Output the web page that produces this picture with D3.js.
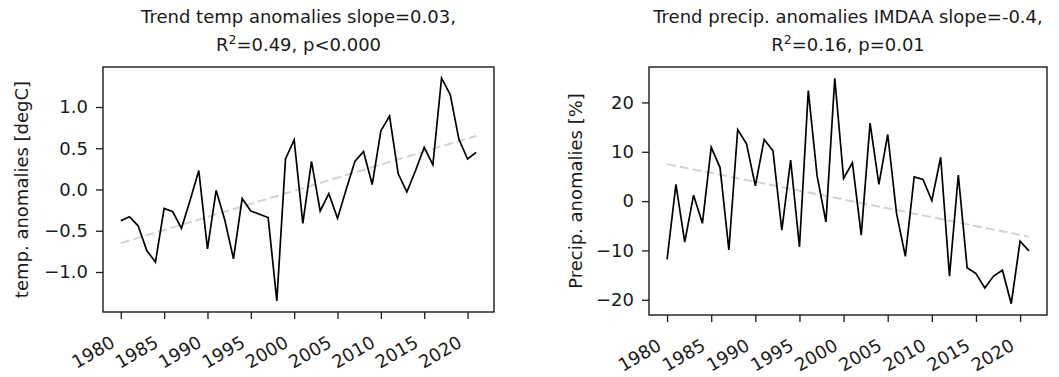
<!DOCTYPE html>
<html>
<head>
<meta charset="utf-8">
<script src="https://cdn.jsdelivr.net/npm/d3@7"></script>
<style>
  body { margin: 0; background: #fff; }
  svg { display: block; }
  text { font-family: "DejaVu Sans", sans-serif; fill: #1a1a1a; }
</style>
</head>
<body>
<svg id="chart"></svg>
<script>
// Canvas size
const width = 1059;
const height = 377;
const fontSize = 18;

// Data: annual anomalies 1980-2021
const years = d3.range(1980, 2022);
const tempAnom = [-0.38, -0.33, -0.44, -0.74, -0.88, -0.23, -0.27, -0.47, -0.13, 0.23,
  -0.72, -0.01, -0.37, -0.84, -0.11, -0.26, -0.30, -0.34, -1.35, 0.37,
  0.60, -0.41, 0.34, -0.26, -0.05, -0.35, 0.00, 0.34, 0.46, 0.06,
  0.71, 0.89, 0.19, -0.03, 0.23, 0.51, 0.30, 1.35, 1.15, 0.61,
  0.37, 0.45];
const precipAnom = [-11.8, 3.4, -8.3, 1.2, -4.5, 10.9, 6.8, -9.9, 14.5, 11.6,
  3.1, 12.5, 10.2, -5.9, 8.3, -9.3, 22.4, 5.1, -4.2, 24.9,
  4.6, 7.8, -6.9, 15.8, 3.4, 13.5, -2.5, -11.2, 4.9, 4.4,
  0.1, 8.9, -15.2, 5.3, -13.5, -14.7, -17.6, -15.2, -14.0, -20.8,
  -8.1, -10.1];

// Trend line end points (first and last year)
const trendYears = [1980, 2021];
const tempTrend = [-0.65, 0.65];
const precipTrend = [7.5, -7.2];

// Tick values
const xTicks = [1980, 1985, 1990, 1995, 2000, 2005, 2010, 2015, 2020];
const tempTicks = [-1.0, -0.5, 0.0, 0.5, 1.0];
const precipTicks = [-20, -10, 0, 10, 20];

const svg = d3.select('#chart')
  .attr('width', width)
  .attr('height', height);

// Draw one panel
function drawPanel(opts) {
  const { box, values, trend, yTicks, yFormat, yLabel, titleLines, yLabelX } = opts;

  // matplotlib-style 5% margins
  const xPad = (years[years.length - 1] - years[0]) * 0.05;
  const x = d3.scaleLinear()
    .domain([years[0] - xPad, years[years.length - 1] + xPad])
    .range([box.left, box.right]);
  const [vMin, vMax] = d3.extent(values);
  const yPad = (vMax - vMin) * 0.05;
  const y = d3.scaleLinear()
    .domain([vMin - yPad, vMax + yPad])
    .range([box.bottom, box.top]);

  const g = svg.append('g');

  // Trend line
  g.append('path')
    .datum(trendYears.map((yr, i) => [yr, trend[i]]))
    .attr('d', d3.line().x(d => x(d[0])).y(d => y(d[1])))
    .attr('fill', 'none')
    .attr('stroke', '#d3d3d3')
    .attr('stroke-width', 2)
    .attr('stroke-dasharray', '9,4');

  // Series line
  g.append('path')
    .datum(years.map((yr, i) => [yr, values[i]]))
    .attr('d', d3.line().x(d => x(d[0])).y(d => y(d[1])))
    .attr('fill', 'none')
    .attr('stroke', '#000')
    .attr('stroke-width', 1.7);

  // Y axis
  const yAxis = g.append('g')
    .attr('transform', `translate(${box.left},0)`)
    .call(d3.axisLeft(y).tickValues(yTicks).tickFormat(yFormat).tickSize(7).tickPadding(8));
  yAxis.select('.domain').remove();
  yAxis.selectAll('line').attr('stroke', '#1a1a1a').attr('stroke-width', 1.3);
  yAxis.selectAll('text').attr('font-size', fontSize).style('font-family', '"DejaVu Sans", sans-serif');

  // X axis
  const xAxis = g.append('g')
    .attr('transform', `translate(0,${box.bottom})`)
    .call(d3.axisBottom(x).tickValues(xTicks).tickFormat(d3.format('d')).tickSize(7));
  xAxis.select('.domain').remove();
  xAxis.selectAll('line').attr('stroke', '#1a1a1a').attr('stroke-width', 1.3);
  xAxis.selectAll('text')
    .attr('font-size', fontSize)
    .style('font-family', '"DejaVu Sans", sans-serif')
    .attr('text-anchor', 'end')
    .attr('dy', 0)
    .attr('y', 0)
    .attr('transform', 'translate(-5,34) rotate(-30)');

  // Frame
  g.append('rect')
    .attr('x', box.left)
    .attr('y', box.top)
    .attr('width', box.right - box.left)
    .attr('height', box.bottom - box.top)
    .attr('fill', 'none')
    .attr('stroke', '#1a1a1a')
    .attr('stroke-width', 1.4);

  // Y label
  g.append('text')
    .attr('transform', `translate(${yLabelX},${(box.top + box.bottom) / 2}) rotate(-90)`)
    .attr('text-anchor', 'middle')
    .attr('font-size', fontSize)
    .text(yLabel);

  // Title (two lines)
  const cx = (box.left + box.right) / 2;
  const title = g.append('text')
    .attr('text-anchor', 'middle')
    .attr('font-size', fontSize);
  title.append('tspan').attr('x', cx).attr('y', 23).text(titleLines[0]);
  const l2 = title.append('tspan').attr('x', cx).attr('y', 51);
  l2.append('tspan').text('R');
  l2.append('tspan').attr('font-size', 12.5).attr('dy', -7).text('2');
  l2.append('tspan').attr('dy', 7).text(titleLines[1]);
}

drawPanel({
  box: { left: 103, right: 494, top: 67, bottom: 312 },
  values: tempAnom,
  trend: tempTrend,
  yTicks: tempTicks,
  yFormat: d3.format('.1f'),
  yLabel: 'temp. anomalies [degC]',
  yLabelX: 28,
  titleLines: ['Trend temp anomalies slope=0.03,', '=0.49, p<0.000']
});

drawPanel({
  box: { left: 649, right: 1047, top: 67, bottom: 315 },
  values: precipAnom,
  trend: precipTrend,
  yTicks: precipTicks,
  yFormat: d3.format('d'),
  yLabel: 'Precip. anomalies [%]',
  yLabelX: 582,
  titleLines: ['Trend precip. anomalies IMDAA slope=-0.4,', '=0.16, p=0.01']
});
</script>
</body>
</html>
